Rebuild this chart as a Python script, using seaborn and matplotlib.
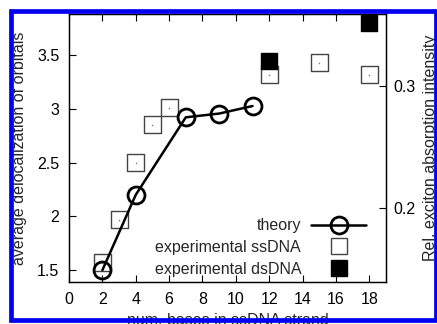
import matplotlib
matplotlib.use("Agg")
import matplotlib.pyplot as plt
import seaborn as sns
from matplotlib.lines import Line2D
from matplotlib.patches import Rectangle

# data
theory_x = [2, 4, 7, 9, 11]
theory_y = [1.50, 2.20, 2.92, 2.955, 3.025]

ss_x = [2, 3, 4, 5, 6, 12, 15, 18]
ss_y = [0.155, 0.190, 0.237, 0.268, 0.282, 0.309, 0.319, 0.309]

ds_x = [12, 18]
ds_y = [0.3205, 0.352]

x_ticks = [0, 2, 4, 6, 8, 10, 12, 14, 16, 18]
y_ticks = [1.5, 2, 2.5, 3, 3.5]
y2_ticks = [0.2, 0.3]

sns.set_style("white")
plt.rcParams["font.family"] = ["Liberation Sans", "DejaVu Sans"]
plt.rcParams["font.size"] = 11.5

fig = plt.figure(figsize=(4.37, 3.24), dpi=100)
ax = fig.add_axes([69 / 437, 1 - 282 / 324, 317 / 437, 268 / 324])
ax2 = ax.twinx()

MS = 12.2

# experimental points on the right axis
sns.scatterplot(x=ss_x, y=ss_y, ax=ax2, marker="s", s=MS ** 2,
                facecolor="none", edgecolor="#444444", linewidth=1.0, zorder=2)
sns.scatterplot(x=ss_x, y=ss_y, ax=ax2, marker="o", s=1.2,
                color="#777777", linewidth=0, zorder=2)
sns.scatterplot(x=ds_x, y=ds_y, ax=ax2, marker="s", s=MS ** 2,
                color="black", edgecolor="black", linewidth=1.0, zorder=3)

# theory on the left axis, drawn on top
sns.lineplot(x=theory_x, y=theory_y, ax=ax, color="black", linewidth=1.8,
             marker="o", markersize=MS, markerfacecolor="none",
             markeredgecolor="black", markeredgewidth=2.0)
ax.set_zorder(ax2.get_zorder() + 1)
ax.patch.set_visible(False)

ax.set_xlim(0, 19)
ax.set_ylim(1.39, 3.88)
ax2.set_ylim(0.139, 0.359)
ax.set_xticks(x_ticks)
ax.set_yticks(y_ticks)
ax.set_yticklabels(["1.5", "2", "2.5", "3", "3.5"])
ax2.set_yticks(y2_ticks)

ax.tick_params(axis="x", direction="in", length=5, width=0.8, top=True,
               bottom=True, pad=7, colors="black")
ax.tick_params(axis="y", direction="in", length=5, width=0.8, left=True,
               right=False, pad=7, colors="black")
ax2.tick_params(axis="y", direction="in", length=5, width=0.8, right=True,
                left=False, pad=5, colors="black")
ax2.tick_params(axis="x", top=False, bottom=False)

for a in (ax, ax2):
    for sp in a.spines.values():
        sp.set_color("black")
        sp.set_linewidth(0.9)

ax.set_xlabel("num. bases in ssDNA strand")
ax.set_ylabel("average delocalization of orbitals")
ax2.set_ylabel("Rel. exciton absorption intensity")
ax.xaxis.set_label_coords(0.5, -0.142)
ax.yaxis.set_label_coords(-0.155, 0.5)
ax2.yaxis.set_label_coords(1.139, 0.5)
ax.xaxis.label.set_va("center")
ax.yaxis.label.set_va("center")
ax2.yaxis.label.set_va("center")

handles = [
    Line2D([], [], color="black", linewidth=1.8, marker="o", markersize=MS,
           markerfacecolor="none", markeredgewidth=2.0),
    Line2D([], [], linestyle="none", marker="s", markersize=MS,
           markerfacecolor="white", markeredgecolor="#444444", markeredgewidth=1.0),
    Line2D([], [], linestyle="none", marker="s", markersize=MS,
           markerfacecolor="black", markeredgecolor="black"),
]
labels = ["theory", "experimental ssDNA", "experimental dsDNA"]
ax.legend(handles, labels, loc="lower right", bbox_to_anchor=(0.937, 0.02),
          frameon=False, markerfirst=False, handlelength=3.44,
          handletextpad=0.63, labelspacing=0.42, borderpad=0,
          borderaxespad=0, fontsize=11.5)

# blue frame around the figure
fig.patches.append(Rectangle((10.7 / 437, 1 - 320 / 324), (435.5 - 10.7) / 437,
                             (320 - 11.3) / 324, transform=fig.transFigure,
                             fill=False, edgecolor="#0000f0", linewidth=3.4,
                             zorder=10))

fig.savefig("out.png", dpi=100)
